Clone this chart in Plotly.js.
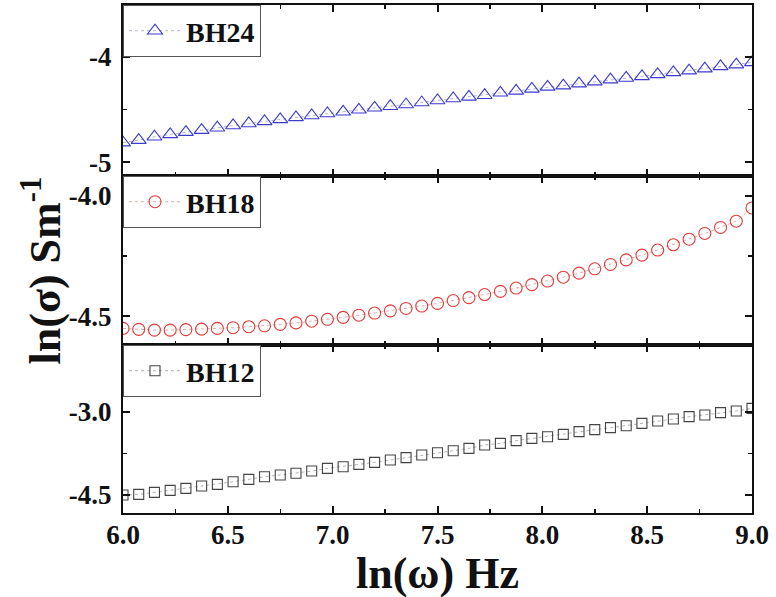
<!DOCTYPE html>
<html>
<head>
<meta charset="utf-8">
<script src="https://cdn.plot.ly/plotly-3.0.1.min.js"></script>
<style>html,body{margin:0;padding:0;background:#fff;}#chart{width:776px;height:597px;}</style>
</head>
<body>
<div id="chart"></div>
<script>
// ln(omega) values (x), 41 points from 6.0 to 9.0
const lnOmega = [6.000,6.075,6.150,6.225,6.300,6.375,6.450,6.525,6.600,6.675,6.750,6.825,6.900,6.975,7.050,7.125,7.200,7.275,7.350,7.425,7.500,7.575,7.650,7.725,7.800,7.875,7.950,8.025,8.100,8.175,8.250,8.325,8.400,8.475,8.550,8.625,8.700,8.775,8.850,8.925,9.000];

const bh24 = [-4.814,-4.790,-4.758,-4.736,-4.714,-4.695,-4.673,-4.651,-4.632,-4.613,-4.594,-4.575,-4.557,-4.538,-4.522,-4.503,-4.484,-4.469,-4.453,-4.434,-4.415,-4.396,-4.380,-4.365,-4.342,-4.324,-4.305,-4.286,-4.274,-4.255,-4.236,-4.217,-4.201,-4.186,-4.167,-4.148,-4.132,-4.113,-4.091,-4.075,-4.054];

const bh18 = [-4.551,-4.555,-4.558,-4.558,-4.556,-4.554,-4.551,-4.548,-4.544,-4.540,-4.534,-4.528,-4.521,-4.513,-4.505,-4.496,-4.487,-4.478,-4.468,-4.458,-4.447,-4.435,-4.423,-4.410,-4.397,-4.383,-4.369,-4.354,-4.338,-4.321,-4.303,-4.285,-4.266,-4.246,-4.225,-4.203,-4.180,-4.156,-4.131,-4.105,-4.050];

const bh12 = [-4.500,-4.488,-4.452,-4.416,-4.380,-4.337,-4.307,-4.259,-4.217,-4.169,-4.139,-4.108,-4.066,-4.018,-3.988,-3.946,-3.910,-3.867,-3.825,-3.777,-3.735,-3.699,-3.657,-3.596,-3.566,-3.518,-3.476,-3.446,-3.404,-3.355,-3.319,-3.283,-3.247,-3.205,-3.163,-3.127,-3.084,-3.054,-3.012,-2.982,-2.934];

const seriesNames = ["BH24", "BH18", "BH12"];

const xTickVals = [6.0, 6.5, 7.0, 7.5, 8.0, 8.5, 9.0];
const xTickText = ["6.0", "6.5", "7.0", "7.5", "8.0", "8.5", "9.0"];

const yTickValsTop = [-4, -5];
const yTickTextTop = ["-4", "-5"];
const yTickValsMid = [-4.0, -4.5];
const yTickTextMid = ["-4.0", "-4.5"];
const yTickValsBot = [-3.0, -4.5];
const yTickTextBot = ["-3.0", "-4.5"];

const xTitle = "ln(ω) Hz";
const yTitle = "ln(σ) Sm<sup>-1</sup>";

const serif = "Liberation Serif, Times New Roman, serif";

const traces = [
  {x: lnOmega, y: bh24, name: seriesNames[0], xaxis: "x", yaxis: "y", legend: "legend",
   mode: "lines+markers", line: {color: "#9090c8", width: 0.7, dash: "dot"},
   marker: {symbol: "triangle-up-open", size: 13, color: "#3b3bd0", line: {width: 1.1, color: "#3b3bd0"}}},
  {x: lnOmega, y: bh18, name: seriesNames[1], xaxis: "x2", yaxis: "y2", legend: "legend2",
   mode: "lines+markers", line: {color: "#d08a8a", width: 0.7, dash: "dot"},
   marker: {symbol: "circle-open", size: 12, color: "#e33a3a", line: {width: 1.1, color: "#e33a3a"}}},
  {x: lnOmega, y: bh12, name: seriesNames[2], xaxis: "x3", yaxis: "y3", legend: "legend3",
   mode: "lines+markers", line: {color: "#909090", width: 0.7, dash: "dot"},
   marker: {symbol: "square-open", size: 10, color: "#444444", line: {width: 1.1, color: "#444444"}}}
];

const frame = {showline: true, linecolor: "#111", linewidth: 2, mirror: "ticks",
  ticks: "inside", ticklen: 7, tickwidth: 2, tickcolor: "#111",
  showgrid: false, zeroline: false};

function xa(showLabels, anchor) {
  return Object.assign({}, frame, {
    range: [6.0, 9.0], anchor: anchor, tickvals: xTickVals, ticktext: xTickText,
    showticklabels: showLabels, ticklabelstandoff: -3,
    minor: {ticks: "inside", ticklen: 4, tickwidth: 1.5, tickcolor: "#111", dtick: 0.25, tick0: 6.0},
    tickfont: {family: serif, size: 27, color: "#111", weight: "bold"}
  });
}
function ya(range, dom, vals, text, minorStep, anchor) {
  return Object.assign({}, frame, {
    range: range, domain: dom, anchor: anchor, tickvals: vals, ticktext: text,
    ticklabelstandoff: 4,
    minor: {ticks: "inside", ticklen: 4, tickwidth: 1.5, tickcolor: "#111", tickvals: minorStep},
    tickfont: {family: serif, size: 27, color: "#111", weight: "bold"}
  });
}

const legendBase = {x: 0.0, xanchor: "left", yanchor: "top", bgcolor: "#fff",
  bordercolor: "#555", borderwidth: 1,
  font: {family: serif, size: 28, color: "#111", weight: "bold"},
  itemwidth: 52, tracegroupgap: 0};

const layout = {
  width: 776, height: 597,
  margin: {l: 123, r: 24, t: 5, b: 84},
  paper_bgcolor: "#fff", plot_bgcolor: "#fff",
  showlegend: true,
  xaxis: xa(false, "y"),
  xaxis2: xa(false, "y2"),
  xaxis3: xa(true, "y3"),
  yaxis: ya([-5.13, -3.51], [0.6634, 1.0], yTickValsTop, yTickTextTop, [-4.5], "x"),
  yaxis2: ya([-4.62, -3.917], [0.3307, 0.6634], yTickValsMid, yTickTextMid, [-4.25], "x2"),
  yaxis3: ya([-4.825, -1.789], [0.0, 0.3307], yTickValsBot, yTickTextBot, [-3.75], "x3"),
  legend: Object.assign({}, legendBase, {y: 1.0}),
  legend2: Object.assign({}, legendBase, {y: 0.6634}),
  legend3: Object.assign({}, legendBase, {y: 0.3307}),
  annotations: [{
    text: yTitle, xref: "paper", yref: "paper",
    x: -0.13, y: 0.478, xanchor: "center", yanchor: "middle",
    textangle: -90, showarrow: false,
    font: {family: serif, size: 44, color: "#111", weight: "bold"}
  }, {
    text: xTitle, xref: "paper", yref: "paper",
    x: 0.5, y: -0.066, xanchor: "center", yanchor: "top",
    showarrow: false,
    font: {family: serif, size: 44, color: "#111", weight: "bold"}
  }]
};

Plotly.newPlot("chart", traces, layout, {displayModeBar: false, staticPlot: true});
</script>
</body>
</html>
